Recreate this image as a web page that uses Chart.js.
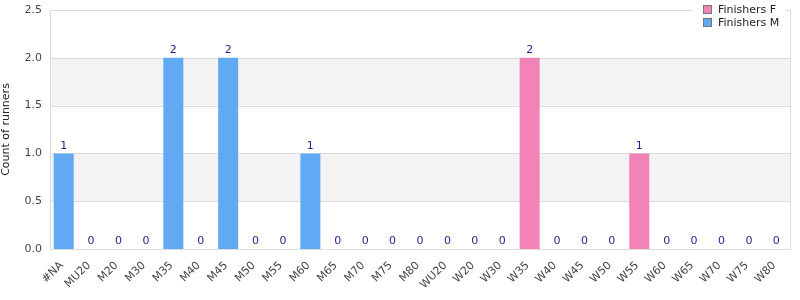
<!DOCTYPE html>
<html lang="en">
<head>
<meta charset="UTF-8" />
<title>Finishers by category</title>
<script src="https://cdn.jsdelivr.net/npm/chart.js"></script>
<style>
  html, body { margin: 0; padding: 0; background: #fff; }
  #wrap { width: 800px; height: 300px; }
</style>
</head>
<body>
<div id="wrap"><canvas id="chart" width="800" height="300"></canvas></div>
<script>
const categories = ["#NA","MU20","M20","M30","M35","M40","M45","M50","M55","M60","M65","M70","M75","M80",
  "WU20","W20","W30","W35","W40","W45","W50","W55","W60","W65","W70","W75","W80"];
const finishersM = [1,0,0,0,2,0,2,0,0,1,0,0,0,0,0,0,0,0,0,0,0,0,0,0,0,0,0];
const finishersF = [0,0,0,0,0,0,0,0,0,0,0,0,0,0,0,0,0,2,0,0,0,1,0,0,0,0,0];
const yTicks = [0, 0.5, 1, 1.5, 2, 2.5];

const colorM = "#62a9f4";
const colorF = "#f283b8";
const font = "DejaVu Sans";

// bands + border behind the bars
const backdrop = {
  id: "backdrop",
  beforeDatasetsDraw(chart) {
    const { ctx, chartArea: a, scales: { y } } = chart;
    ctx.save();
    ctx.fillStyle = "#f3f3f3";
    for (let i = 1; i < yTicks.length - 1; i += 2) {
      const top = y.getPixelForValue(yTicks[i + 1]);
      const bot = y.getPixelForValue(yTicks[i]);
      ctx.fillRect(a.left, top, a.right - a.left, bot - top);
    }
    ctx.strokeStyle = "#dcdcdc";
    ctx.lineWidth = 1;
    yTicks.forEach(v => {
      const p = Math.round(y.getPixelForValue(v)) + 0.5;
      ctx.beginPath(); ctx.moveTo(a.left, p); ctx.lineTo(a.right, p); ctx.stroke();
    });
    ctx.strokeRect(a.left + 0.5, a.top + 0.5, a.right - a.left, a.bottom - a.top);
    ctx.restore();
  }
};

// totals above each column, and the legend box
const labelsAndLegend = {
  id: "labelsAndLegend",
  afterDatasetsDraw(chart) {
    const { ctx, scales: { x, y } } = chart;
    ctx.save();
    ctx.font = "11px '" + font + "'";
    ctx.fillStyle = "#1f1f8f";
    ctx.textAlign = "center";
    ctx.textBaseline = "bottom";
    categories.forEach((c, i) => {
      const total = finishersM[i] + finishersF[i];
      ctx.fillText(String(total), x.getPixelForValue(i), y.getPixelForValue(total) - 2);
    });

    ctx.fillStyle = "#fff";
    ctx.fillRect(692, 0, 94, 36);
    const items = [["Finishers F", colorF], ["Finishers M", colorM]];
    ctx.textAlign = "left";
    ctx.textBaseline = "middle";
    items.forEach(([txt, col], i) => {
      const top = 5 + i * 13;
      ctx.fillStyle = col;
      ctx.fillRect(703, top, 9, 9);
      ctx.strokeStyle = "#777";
      ctx.strokeRect(703.5, top + 0.5, 8, 8);
      ctx.fillStyle = "#222";
      ctx.fillText(txt, 718, top + 5);
    });
    ctx.restore();
  }
};

new Chart(document.getElementById("chart"), {
  type: "bar",
  data: {
    labels: categories,
    datasets: [
      { label: "Finishers M", data: finishersM, backgroundColor: colorM, borderWidth: 0 },
      { label: "Finishers F", data: finishersF, backgroundColor: colorF, borderWidth: 0 }
    ]
  },
  plugins: [backdrop, labelsAndLegend],
  options: {
    responsive: false,
    animation: false,
    layout: { padding: { top: 10, right: 10, left: 0, bottom: 0 } },
    datasets: { bar: { categoryPercentage: 1, barPercentage: 0.73 } },
    plugins: { legend: { display: false }, tooltip: { enabled: false } },
    scales: {
      x: {
        stacked: true,
        grid: { display: false, drawTicks: false },
        border: { display: false },
        ticks: {
          maxRotation: 45, minRotation: 45, autoSkip: false, padding: 10, labelOffset: -2,
          color: "#444", font: { family: font, size: 11 }
        },
        afterFit(s) { s.height = 51; s.paddingLeft = 0; s.paddingRight = 0; }
      },
      y: {
        stacked: true,
        min: 0, max: 2.5,
        grid: { display: false, drawTicks: false },
        border: { display: false },
        ticks: {
          stepSize: 0.5, padding: 8, color: "#444",
          font: { family: font, size: 11 },
          callback: v => v.toFixed(1)
        },
        title: {
          display: true, text: "Count of runners", color: "#222",
          font: { family: font, size: 11 }, padding: 0
        },
        afterFit(s) { s.width = 50; s.paddingTop = 0; s.paddingBottom = 0; }
      }
    }
  }
});
</script>
</body>
</html>
